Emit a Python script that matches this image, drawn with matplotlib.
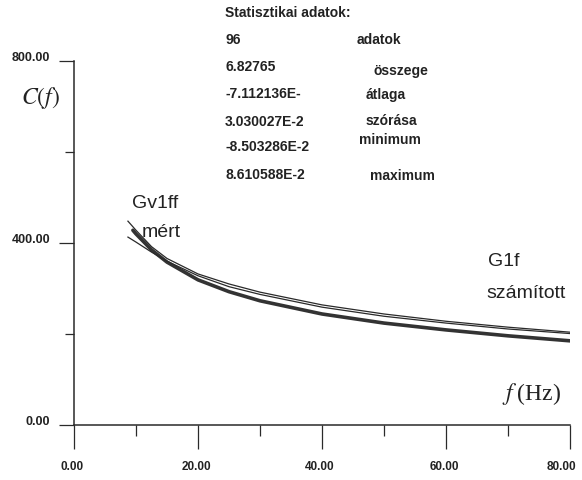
import numpy as np
import matplotlib.pyplot as plt
import matplotlib.transforms as mtransforms

# curve data
f_gv1ff = [8.7, 10, 12.5, 15, 20, 25, 30, 40, 50, 60, 70, 80]
c_gv1ff = [448, 428, 392, 366, 332, 310, 292, 264, 244, 228, 215, 204]
f_g1f = [8.7, 10, 12.5, 15, 20, 25, 30, 40, 50, 60, 70, 80]
c_g1f = [413, 402, 380, 360, 328, 304, 287, 259, 239, 224, 211, 201]
f_mert = [9.5, 10, 12.5, 15, 20, 25, 30, 40, 50, 60, 70, 80]
c_mert = [428, 420, 385, 358, 319, 293, 273, 244, 224, 209, 196, 185]

xticks_major = [0, 20, 40, 60, 80]
xticks_minor = [10, 30, 50, 70]
yticks_major = [0, 400, 800]
yticks_minor = [200, 600]

stat_values = ["96", "6.82765", "-7.112136E-", "3.030027E-2", "-8.503286E-2", "8.610588E-2"]
stat_names = ["adatok", "összege", "átlaga", "szórása", "minimum", "maximum"]

W, H = 582, 481
fig = plt.figure(figsize=(W / 100, H / 100), dpi=100)
plt.rcParams['font.family'] = ['Liberation Sans', 'DejaVu Sans']
ax = fig.add_axes([74 / W, 55 / H, (570 - 74) / W, (426 - 62) / H])

ink = '#2a2a2a'
ax.plot(f_mert, c_mert, color='#333333', lw=2.6, solid_capstyle='round')
ax.plot(f_gv1ff, c_gv1ff, color=ink, lw=0.9)
ax.plot(f_g1f, c_g1f, color=ink, lw=0.9)

ax.set_xlim(0, 80)
ax.set_ylim(0, 800)
for s in ['top', 'right']:
    ax.spines[s].set_visible(False)
for s in ['left', 'bottom']:
    ax.spines[s].set_color(ink)
    ax.spines[s].set_linewidth(1.1)

ax.set_xticks(xticks_major)
ax.set_xticks(xticks_minor, minor=True)
ax.set_yticks(yticks_major)
ax.set_yticks(yticks_minor, minor=True)
ax.set_xticklabels(["%.2f" % v for v in xticks_major])
ax.set_yticklabels(["%.2f" % v for v in yticks_major])

ax.tick_params(axis='x', which='major', direction='out', length=17, width=0.9, color=ink,
               pad=8, labelsize=8.5, labelcolor='#222222')
ax.tick_params(axis='x', which='minor', direction='out', length=8, width=0.9, color=ink)
ax.tick_params(axis='y', which='major', direction='out', length=11, width=0.9, color=ink,
               pad=6, labelsize=9, labelcolor='#222222')
ax.tick_params(axis='y', which='minor', direction='out', length=6.5, width=0.9, color=ink)
for lab in ax.get_xticklabels() + ax.get_yticklabels():
    lab.set_fontweight('bold')
# y labels sit a little above their ticks
up = mtransforms.ScaledTranslation(0, 5 / 100, fig.dpi_scale_trans)
for lab in ax.get_yticklabels():
    lab.set_transform(lab.get_transform() + up)
# x labels drift slightly left, the last one stays inside the page
xlabs = ax.get_xticklabels()
for i, lab in enumerate(xlabs):
    dx = -9 if i == len(xlabs) - 1 else -2
    lab.set_transform(lab.get_transform() +
                      mtransforms.ScaledTranslation(dx / 100, 0, fig.dpi_scale_trans))

# axis titles
ax.text(-0.068, 0.9, "$C(f)$", transform=ax.transAxes, fontsize=17,
        ha='center', va='center', color='#222222', math_fontfamily='stix')
fig.text(532 / W, 1 - 394 / H, "$f\\;$(Hz)", fontsize=17, family=['Liberation Serif'],
         ha='center', va='center', color='#222222', math_fontfamily='stix')

# curve labels
lab_kw = dict(fontsize=14, color='#222222', va='center')
fig.text(132 / W, 1 - 203 / H, "Gv1ff", **lab_kw)
fig.text(142 / W, 1 - 233 / H, "mért", **lab_kw)
fig.text(488 / W, 1 - 262 / H, "G1f", **lab_kw)
fig.text(486 / W, 1 - 294 / H, "számított", **lab_kw)

# statistics block
st_kw = dict(fontsize=10, fontweight='bold', color='#222222', va='center')
fig.text(225 / W, 1 - 13 / H, "Statisztikai adatok:", **st_kw)
val_y = [40, 67, 94, 122, 147, 175]
name_x = [357, 374, 366, 366, 359, 370]
name_y = [40, 71, 95, 121, 140, 176]
for v, yy in zip(stat_values, val_y):
    fig.text(225 / W, 1 - yy / H, v, **st_kw)
for n, xx, yy in zip(stat_names, name_x, name_y):
    fig.text(xx / W, 1 - yy / H, n, **st_kw)

fig.savefig("out.png", dpi=100)
